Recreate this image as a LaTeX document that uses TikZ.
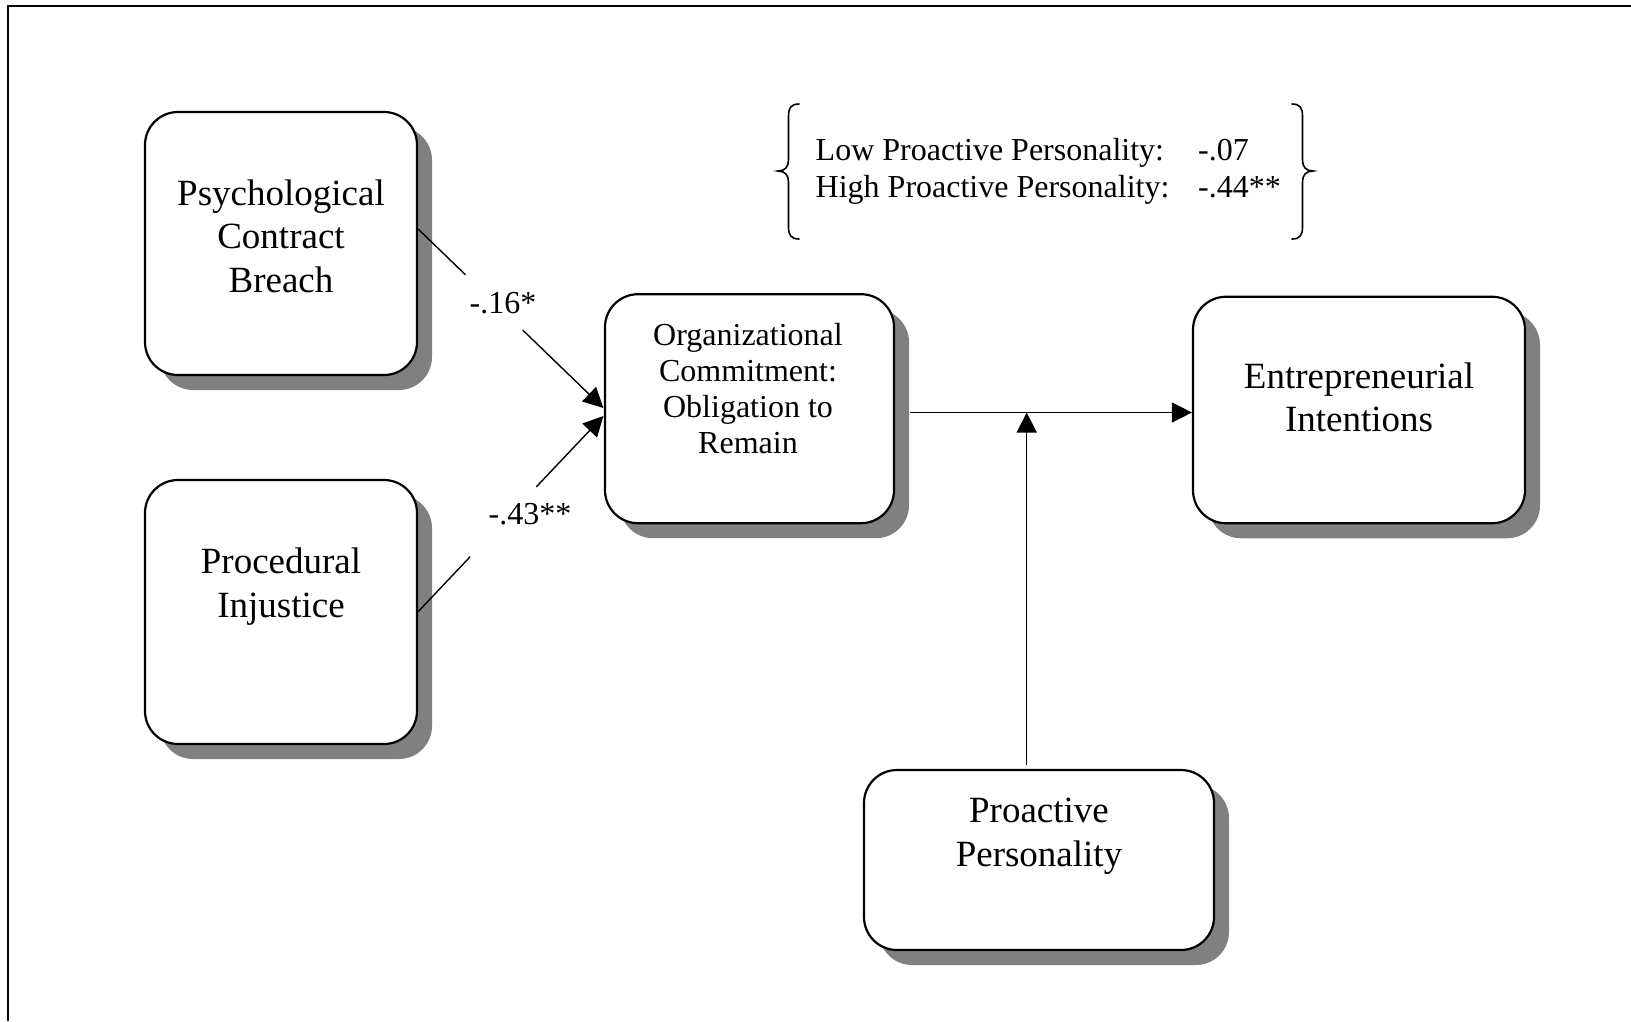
\documentclass[tikz,border=0pt]{standalone}
\usepackage{fontspec}
\setmainfont{Liberation Serif}
\usetikzlibrary{arrows.meta,shadows,calc}
\tikzset{
  box/.style={draw, line width=2.2pt, rounded corners=33pt, fill=white, inner sep=0pt,
    drop shadow={shadow xshift=15pt, shadow yshift=-15pt, fill=black!50, opacity=1}},
  bigtxt/.style={font=\fontsize{37}{43}\selectfont, anchor=base, inner sep=0pt},
  midtxt/.style={font=\fontsize{32}{36}\selectfont, anchor=base, inner sep=0pt},
  conn/.style={line width=1.4pt},
  arr/.style={line width=1.4pt, -{Triangle[length=20pt,width=20pt]}},
  bracepath/.style={line width=1.6pt, line cap=round}
}
\begin{document}
\begin{tikzpicture}[x=1pt,y=-1pt]
\useasboundingbox (0,0) rectangle (1631,1021);
% frame (cropped)
\draw[line width=2pt] (8,1021) -- (8,6) -- (1631,6);

% boxes
\node[box, minimum width=272pt, minimum height=263pt] (pcb) at (281,243.5) {};
\node[box, minimum width=272pt, minimum height=264pt] (pi) at (281,612) {};
\node[box, minimum width=289pt, minimum height=229pt] (oc) at (749.5,408.7) {};
\node[box, minimum width=332pt, minimum height=226.5pt] (ei) at (1359,410) {};
\node[box, minimum width=350pt, minimum height=180pt] (pp) at (1039,860) {};

% box texts
\node[bigtxt] (pcb1) at (281,205.5) {Psychological};
\node[bigtxt] (pcb2) at (281,248.5) {Contract};
\node[bigtxt] (pcb3) at (281,292) {Breach};

\node[bigtxt] (pi1) at (281,573) {Procedural};
\node[bigtxt] (pi2) at (281,617) {Injustice};

\node[midtxt] (oc1) at (748,345) {Organizational};
\node[midtxt] (oc2) at (748,381) {Commitment:};
\node[midtxt] (oc3) at (748,417) {Obligation to};
\node[midtxt] (oc4) at (748,453) {Remain};

\node[bigtxt] (ei1) at (1359,388) {Entrepreneurial};
\node[bigtxt] (ei2) at (1359,431.5) {Intentions};

\node[bigtxt] (pp1) at (1039,822) {Proactive};
\node[bigtxt] (pp2) at (1039,866) {Personality};

% path coefficient labels
\node[midtxt] (l16) at (503,313) {-.16*};
\node[midtxt] (l43) at (530,524) {-.43**};

% PCB -> OC
\coordinate (s1) at ([yshift=14.5pt]pcb.east);
\coordinate (t1) at ([xshift=-0.5pt,yshift=0.7pt]oc.west);
\coordinate (g1a) at ($(s1)!0.255!(t1)$);
\coordinate (g1b) at ($(s1)!0.565!(t1)$);
\draw[conn] (s1) -- (g1a);
\draw[arr] (g1b) -- (t1);

% PI -> OC
\coordinate (s2) at ([yshift=0.3pt]pi.east);
\coordinate (t2) at ([xshift=-0.5pt,yshift=-7.3pt]oc.west);
\coordinate (g2a) at ($(s2)!0.281!(t2)$);
\coordinate (g2b) at ($(s2)!0.638!(t2)$);
\draw[conn] (s2) -- (g2a);
\draw[arr] (g2b) -- (t2);

% OC -> EI
\coordinate (h0) at ([xshift=15pt,yshift=-3.8pt]oc.east);
\draw[arr] (h0) -- (h0 -| ei.west);

% moderator
\coordinate (vx) at (1026.7,412.5);
\draw[arr] ([yshift=4pt]pp.north -| vx) -- (vx);

% bracketed text
\node[midtxt, anchor=base west] (low) at (815.5,160) {Low Proactive Personality:};
\node[midtxt, anchor=base west] (high) at (815.5,197) {High Proactive Personality:};
\node[midtxt, anchor=base west] (lowv) at (1198,160) {-.07};
\node[midtxt, anchor=base west] (highv) at (1198,197) {-.44**};

\draw[bracepath] (799,104) .. controls (791,104) and (788.5,108) .. (788.5,116) -- (788.5,160)
  .. controls (788.5,167) and (785,171) .. (778,171)
  .. controls (785,171) and (788.5,175) .. (788.5,182) -- (788.5,227)
  .. controls (788.5,235) and (791,239) .. (799,239);
\draw[bracepath] (1292,104) .. controls (1300,104) and (1302.5,108) .. (1302.5,116) -- (1302.5,160)
  .. controls (1302.5,167) and (1306,171) .. (1313,171)
  .. controls (1306,171) and (1302.5,175) .. (1302.5,182) -- (1302.5,227)
  .. controls (1302.5,235) and (1300,239) .. (1292,239);
\end{tikzpicture}
\end{document}
